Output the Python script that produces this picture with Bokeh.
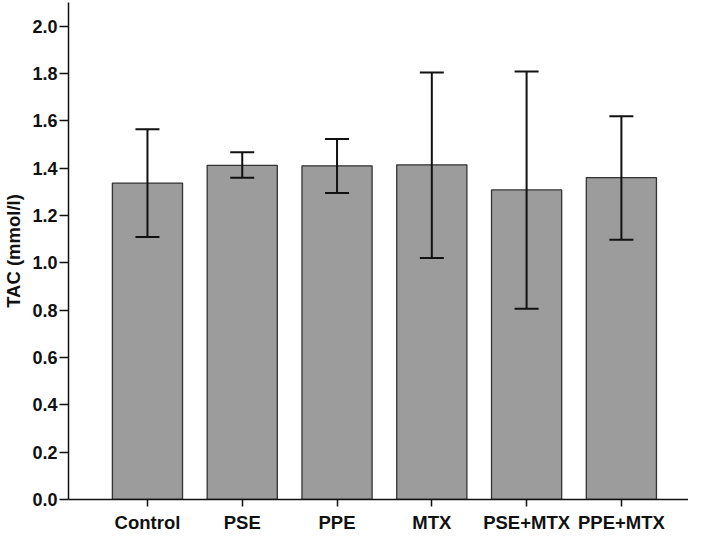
from bokeh.plotting import figure
from bokeh.models import ColumnDataSource, Range1d, FixedTicker, PrintfTickFormatter
from bokeh.embed import file_html
from bokeh.resources import INLINE

categories = ["Control", "PSE", "PPE", "MTX", "PSE+MTX", "PPE+MTX"]
means = [1.337, 1.412, 1.410, 1.414, 1.308, 1.360]
upper = [1.564, 1.467, 1.523, 1.804, 1.808, 1.619]
lower = [1.109, 1.359, 1.295, 1.020, 0.806, 1.098]
y_ticks = [0.0, 0.2, 0.4, 0.6, 0.8, 1.0, 1.2, 1.4, 1.6, 1.8, 2.0]

xs = list(range(len(categories)))
src = ColumnDataSource(dict(x=xs, top=means, upper=upper, lower=lower))

p = figure(width=688, height=535, output_backend="svg", toolbar_location=None,
           x_range=Range1d(-0.833, 5.708), y_range=Range1d(0, 2.1),
           min_border_left=60, min_border_right=0, min_border_top=2, min_border_bottom=33)
p.outline_line_color = None
p.xgrid.visible = False
p.ygrid.visible = False
p.background_fill_color = "white"
p.border_fill_color = "white"

p.vbar(x="x", top="top", width=0.74, bottom=0, source=src,
       fill_color="#9c9c9c", line_color="#333333", line_width=1.3)

p.segment(x0="x", y0="lower", x1="x", y1="upper", source=src,
          line_color="#111111", line_width=2)
p.scatter(x="x", y="upper", source=src, marker="dash", size=24,
          line_color="#111111", line_width=2)
p.scatter(x="x", y="lower", source=src, marker="dash", size=24,
          line_color="#111111", line_width=2)

font = "Liberation Sans"
p.xaxis.ticker = FixedTicker(ticks=xs)
p.xaxis.major_label_overrides = {i: c for i, c in zip(xs, categories)}
p.yaxis.ticker = FixedTicker(ticks=y_ticks)
p.yaxis.formatter = PrintfTickFormatter(format="%.1f")
p.yaxis.axis_label = "TAC (mmol/l)"

for ax in (p.xaxis, p.yaxis):
    ax.axis_line_color = "#111111"
    ax.axis_line_width = 1.5
    ax.major_tick_line_color = "#111111"
    ax.major_tick_line_width = 1.5
    ax.major_tick_in = 0
    ax.minor_tick_line_color = None
    ax.minor_tick_out = 0
    ax.major_label_text_font = font
    ax.major_label_text_font_style = "bold"
    ax.major_label_text_color = "#111111"
    ax.axis_label_text_font = font
    ax.axis_label_text_font_style = "bold"
    ax.axis_label_text_color = "#111111"

p.xaxis.major_tick_out = 7
p.xaxis.major_label_text_font_size = "18.5px"
p.xaxis.major_label_standoff = 5
p.yaxis.major_tick_out = 9
p.yaxis.major_label_text_font_size = "18px"
p.yaxis.major_label_standoff = 2
p.yaxis.axis_label_text_font_size = "18.5px"
p.yaxis.axis_label_standoff = 5

open("out.html", "w").write(file_html(p, INLINE))
